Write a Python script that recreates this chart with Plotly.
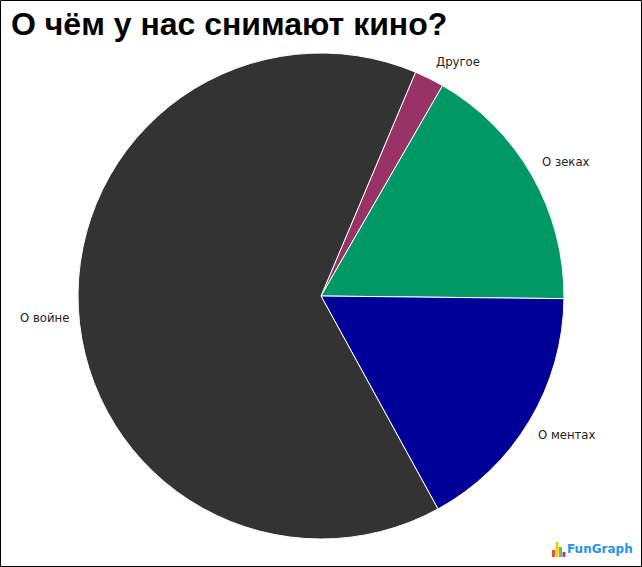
import plotly.graph_objects as go

labels = ["Другое", "О зеках", "О ментах", "О войне"]
values = [2, 17, 17, 65]
colors = ["#993366", "#009966", "#000099", "#333333"]
title = "О чём у нас снимают кино?"
logo_text = "FunGraph"
logo_bars = [("#e8503a", 7), ("#f5d000", 15), ("#6fbf3f", 10), ("#a03fa0", 5)]

W, H = 642, 567
# pixel centres of the outside labels, in the order of `labels`
label_px = [(458, 62), (566, 162), (566.5, 435), (44.5, 318)]

fig = go.Figure(go.Pie(
    labels=labels,
    values=values,
    sort=False,
    direction="clockwise",
    rotation=22.9,
    marker=dict(colors=colors, line=dict(color="#ffffff", width=1)),
    textinfo="none",
    hoverinfo="label+value+percent",
    domain=dict(x=[78 / W, 564 / W], y=[1 - 539 / H, 1 - 53 / H]),
    showlegend=False,
    automargin=False,
))

shapes = [dict(type="rect", xref="paper", yref="paper", x0=0.5 / W, x1=1 - 0.5 / W,
               y0=0.5 / H, y1=1 - 0.5 / H, line=dict(color="#000000", width=1),
               fillcolor="rgba(0,0,0,0)")]
x = 552
for color, h in logo_bars:
    shapes.append(dict(type="rect", xref="paper", yref="paper", x0=x / W, x1=(x + 3) / W,
                       y0=1 - 557 / H, y1=1 - (557 - h) / H, line=dict(width=0), fillcolor=color))
    x += 3.5

annotations = [
    dict(text=f"<b>{title}</b>", xref="paper", yref="paper", x=9 / W, y=1 - 24 / H,
         xanchor="left", yanchor="middle", showarrow=False,
         font=dict(family="Liberation Sans", size=32, color="#000000")),
    dict(text=f"<b>{logo_text}</b>", xref="paper", yref="paper", x=565 / W, y=1 - 549 / H,
         xanchor="left", yanchor="middle", showarrow=False,
         font=dict(family="DejaVu Sans", size=12, color="#2a93e6")),
]
for name, (px, py) in zip(labels, label_px):
    annotations.append(dict(text=name, xref="paper", yref="paper", x=px / W, y=1 - py / H,
                            xanchor="center", yanchor="middle", showarrow=False,
                            font=dict(family="DejaVu Sans", size=11.7, color="#222222")))

fig.update_layout(
    width=W, height=H,
    margin=dict(l=0, r=0, t=0, b=0),
    paper_bgcolor="#ffffff",
    shapes=shapes,
    annotations=annotations,
)

fig.write_html("out.html", config=dict(displayModeBar=False),
               post_script="document.body.style.margin='0';document.body.style.overflow='hidden';")
